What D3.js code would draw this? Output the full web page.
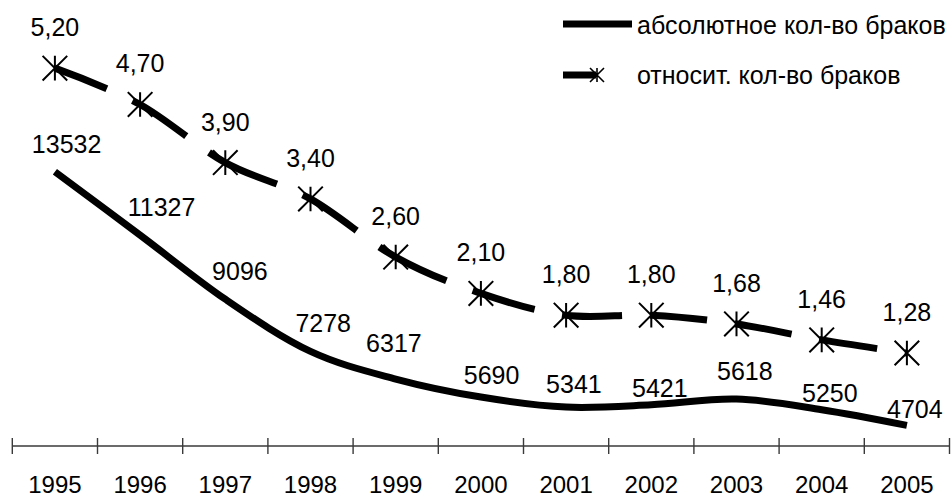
<!DOCTYPE html>
<html><head><meta charset="utf-8">
<script src="https://cdn.jsdelivr.net/npm/d3@7"></script>
<style>html,body{margin:0;padding:0;background:#fff;}svg{display:block;font-family:"Liberation Sans",Arial,sans-serif;}</style>
</head><body>
<svg id="chart" width="951" height="496"></svg>
<script>
// ---- data ----
const years = ["1995","1996","1997","1998","1999","2000","2001","2002","2003","2004","2005"];
const absoluteCount = [13532,11327,9096,7278,6317,5690,5341,5421,5618,5250,4704];
const relativeCount = [5.20,4.70,3.90,3.40,2.60,2.10,1.80,1.80,1.68,1.46,1.28];
const seriesNames = ["абсолютное кол-во браков","относит. кол-во браков"];
// label nudges for the absolute series (layout only)
const absLabelNudge = [[11.7,-18.4],[21.5,-19],[14.6,-19.2],[12.7,-19.7],[-1.8,-27.3],[10.7,-13],[7.8,-13.7],[8.5,-8.1],[8.3,-19.1],[8.1,-8],[7.9,-7.1]];

const svg = d3.select("#chart");
const x = d3.scaleBand().domain(years).range([12.3, 949.5]);
const cx = d => x(d) + x.bandwidth()/2;
const yRel = d3.scaleLinear().domain([0,6]).range([446,10]);
const yAbs = d3.scaleLinear().domain([4000,14000]).range([445.6,158.3]);
const ru = d3.formatLocale({decimal:",",thousands:" ",grouping:[3],currency:["",""]});
const fRel = ru.format(".2f");

// ---- axis ----
const axisY = 446;
const ax = svg.append("g").attr("transform",`translate(0,${axisY})`);
ax.append("line").attr("x1",x.range()[0]).attr("x2",x.range()[1]).attr("stroke","#3a3a3a").attr("stroke-width",1.4);
const bounds = years.map(d=>x(d)).concat([x.range()[1]]);
ax.selectAll("line.tick").data(bounds).join("line").attr("class","tick")
  .attr("x1",d=>d).attr("x2",d=>d).attr("y1",-8).attr("y2",8).attr("stroke","#3a3a3a").attr("stroke-width",1.4);
ax.selectAll("text").data(years).join("text")
  .attr("x",cx).attr("y",46.5).attr("text-anchor","middle").attr("font-size",24).attr("fill","#000").text(d=>d);

// ---- segment splitter ----
function segments(values, yScale){
  const segs=[]; let px=0, py=0;
  const ctx={moveTo(a,b){px=a;py=b;},lineTo(a,b){segs.push(`M${px},${py}L${a},${b}`);px=a;py=b;},
    bezierCurveTo(a,b,c,d,e,f){segs.push(`M${px},${py}C${a},${b},${c},${d},${e},${f}`);px=e;py=f;},closePath(){}};
  d3.line().x((d,i)=>cx(years[i])).y(d=>yScale(d)).curve(d3.curveCardinal.tension(0)).context(ctx)(values);
  return segs;
}

// ---- absolute series (solid) ----
const absLine = d3.line().x((d,i)=>cx(years[i])).y(d=>yAbs(d)).curve(d3.curveCardinal.tension(0));
svg.append("path").attr("d",absLine(absoluteCount)).attr("fill","none").attr("stroke","#000").attr("stroke-width",7).attr("stroke-linecap","butt");

// ---- relative series (dashed, pattern restarts per segment) ----
svg.append("g").selectAll("path").data(segments(relativeCount,yRel)).join("path")
  .attr("d",d=>d).attr("fill","none").attr("stroke","#000").attr("stroke-width",7)
  .attr("stroke-dasharray","56,28").attr("stroke-linecap","butt");

const star = r => `M${-r},${-r}L${r},${r}M${-r},${r}L${r},${-r}M0,${-r}L0,${r}`;
svg.append("g").selectAll("path").data(relativeCount).join("path")
  .attr("transform",(d,i)=>`translate(${cx(years[i])},${yRel(d)})`)
  .attr("d",star(12.3)).attr("stroke","#000").attr("stroke-width",2).attr("fill","none");

// ---- labels ----
svg.append("g").selectAll("text").data(relativeCount).join("text")
  .attr("x",(d,i)=>cx(years[i])).attr("y",d=>yRel(d)-32)
  .attr("text-anchor","middle").attr("font-size",25).attr("fill","#000").text(d=>fRel(d));
svg.append("g").selectAll("text").data(absoluteCount).join("text")
  .attr("x",(d,i)=>cx(years[i])+absLabelNudge[i][0]).attr("y",(d,i)=>yAbs(d)+absLabelNudge[i][1])
  .attr("text-anchor","middle").attr("font-size",25).attr("fill","#000").text(d=>d);

// ---- legend ----
const lg = svg.append("g");
lg.append("line").attr("x1",563).attr("x2",632).attr("y1",24).attr("y2",24).attr("stroke","#000").attr("stroke-width",7);
lg.append("text").attr("x",637).attr("y",34).attr("font-size",25).attr("fill","#000").text(seriesNames[0]);
lg.append("line").attr("x1",563).attr("x2",596).attr("y1",75).attr("y2",75).attr("stroke","#000").attr("stroke-width",7);
lg.append("path").attr("transform","translate(597,75)").attr("d",star(7)).attr("stroke","#000").attr("stroke-width",1.6).attr("fill","none");
lg.append("text").attr("x",637).attr("y",84).attr("font-size",25).attr("fill","#000").text(seriesNames[1]);
</script>
</body></html>
